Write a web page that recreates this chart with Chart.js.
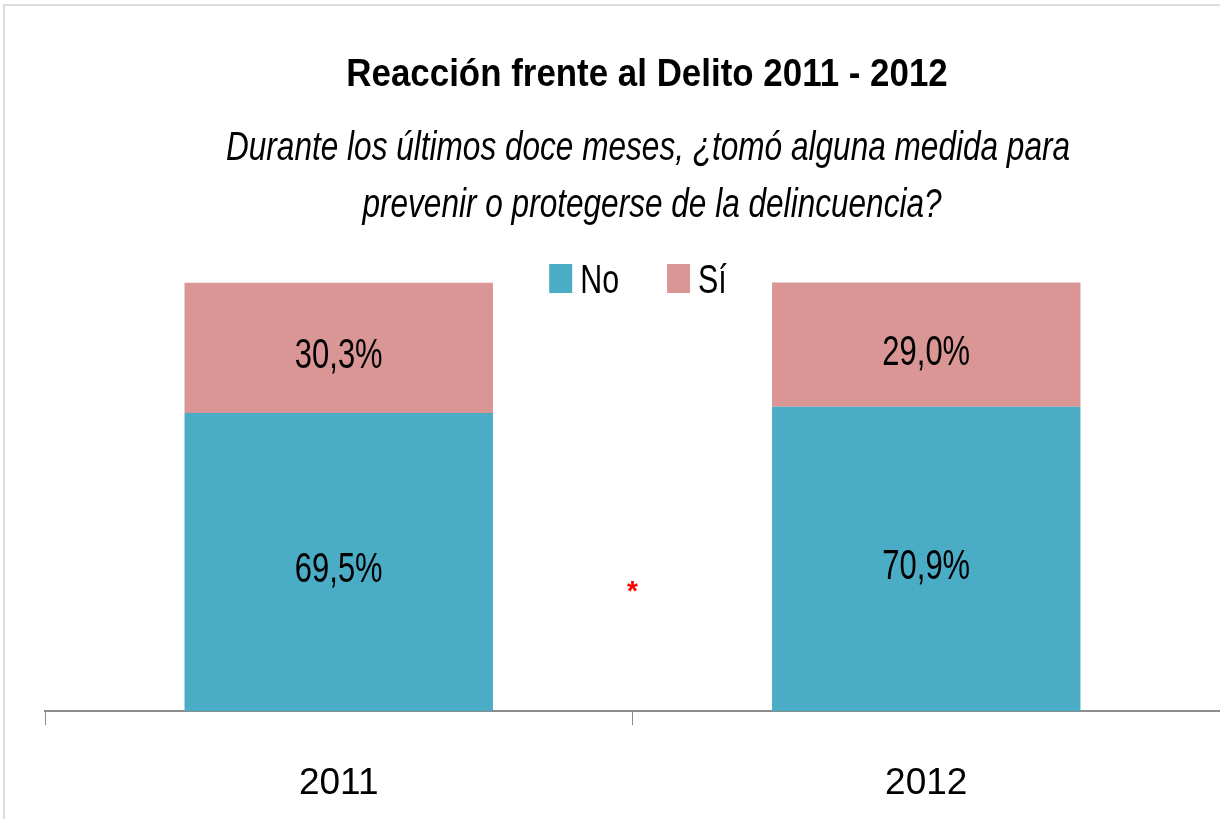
<!DOCTYPE html>
<html>
<head>
<meta charset="utf-8">
<script src="https://cdn.jsdelivr.net/npm/chart.js@4/dist/chart.umd.min.js"></script>
<style>
  html, body { margin: 0; padding: 0; background: #ffffff; }
  #wrap { position: relative; width: 1220px; height: 819px; overflow: hidden; }
  #frame { position: absolute; left: 3px; top: 4px; right: -5px; bottom: -5px;
           border-top: 2px solid #dcdcdc; border-left: 2px solid #dcdcdc; pointer-events: none; }
  canvas { position: absolute; left: 0; top: 0; }
</style>
</head>
<body>
<div id="wrap">
  <canvas id="c" width="1220" height="819"></canvas>
  <div id="frame"></div>
</div>
<script>
// ---- data ----
const categories = ['2011', '2012'];
const seriesNames = ['No', 'Sí'];
const noValues = [69.5, 70.9];
const siValues = [30.3, 29.0];
const seriesColors = ['#4BACC6', '#D99694'];
const titleText = 'Reacción frente al Delito 2011 - 2012';
const subtitleLines = ['Durante los últimos doce meses, ¿tomó alguna medida para',
                       'prevenir o protegerse de la delincuencia?'];
const noteMark = '*';

const FONT = '"Liberation Sans", Arial, sans-serif';

function fmt(v) { return v.toFixed(1).replace('.', ',') + '%'; }

// draw text with a horizontal condensing factor (the original uses a narrow face)
function txt(ctx, s, x, y, font, sx, align) {
  ctx.save();
  ctx.font = font;
  ctx.translate(x, y);
  ctx.scale(sx, 1);
  ctx.textAlign = align || 'center';
  ctx.textBaseline = 'alphabetic';
  ctx.fillText(s, 0, 0);
  ctx.restore();
}

const decorPlugin = {
  id: 'decor',
  afterDraw(chart) {
    const ctx = chart.ctx;
    ctx.save();
    ctx.fillStyle = '#000';
    // title + subtitle
    txt(ctx, titleText, 647, 86, 'bold 39px ' + FONT, 0.895);
    txt(ctx, subtitleLines[0], 648, 160, 'italic 41px ' + FONT, 0.77);
    txt(ctx, subtitleLines[1], 652, 217, 'italic 41px ' + FONT, 0.77);

    // legend (from datasets)
    const lf = '40px ' + FONT, lsx = 0.76;
    ctx.font = lf;
    const boxW = 23, boxH = 29, gapT = 8, gapI = 48;
    const items = chart.data.datasets.map(d => ({
      text: d.label, color: d.backgroundColor,
      w: ctx.measureText(d.label).width * lsx
    }));
    let total = 0;
    items.forEach((it, i) => { total += boxW + gapT + it.w + (i ? gapI : 0); });
    let x = 638 - total / 2;
    items.forEach((it, i) => {
      if (i) x += gapI;
      ctx.fillStyle = it.color;
      ctx.fillRect(x, 264, boxW, boxH);
      x += boxW + gapT;
      ctx.fillStyle = '#000';
      txt(ctx, it.text, x, 293, lf, lsx, 'left');
      x += it.w;
    });

    // segment value labels
    chart.data.datasets.forEach((ds, di) => {
      const meta = chart.getDatasetMeta(di);
      meta.data.forEach((el, i) => {
        const cy = (el.y + el.base) / 2;
        txt(ctx, fmt(ds.data[i]), el.x, cy + 20.5, '43px ' + FONT, 0.72);
      });
    });

    // red asterisk between the two bars
    const xs = chart.scales.x, ys = chart.scales.y;
    const ax = (xs.getPixelForValue(0) + xs.getPixelForValue(1)) / 2;
    ctx.fillStyle = '#FF0000';
    txt(ctx, noteMark, ax, ys.getPixelForValue(26), 'bold 28px ' + FONT, 1.0);
    ctx.restore();
  }
};

function draw() {
  new Chart(document.getElementById('c'), {
    type: 'bar',
    data: {
      labels: categories,
      datasets: [
        { label: seriesNames[0], data: noValues, backgroundColor: seriesColors[0],
          barPercentage: 0.525, categoryPercentage: 1.0 },
        { label: seriesNames[1], data: siValues, backgroundColor: seriesColors[1],
          barPercentage: 0.525, categoryPercentage: 1.0 }
      ]
    },
    options: {
      responsive: false,
      animation: false,
      layout: { padding: { left: 45, right: -4, top: 282, bottom: -22.5 } },
      scales: {
        x: {
          stacked: true,
          offset: true,
          grid: { display: true, drawOnChartArea: false, offset: true,
                  tickLength: 14, color: '#8c8c8c', lineWidth: 1 },
          border: { display: true, color: '#8c8c8c', width: 2 },
          ticks: { color: '#000', font: { family: FONT, size: 37 }, padding: 36 }
        },
        y: {
          stacked: true,
          display: false,
          min: 0,
          max: 100
        }
      },
      plugins: {
        title: { display: false },
        subtitle: { display: false },
        legend: { display: false },
        tooltip: { enabled: false }
      }
    },
    plugins: [decorPlugin]
  });
}

Promise.all([
  document.fonts.load('40px "Liberation Sans"'),
  document.fonts.load('bold 40px "Liberation Sans"'),
  document.fonts.load('italic 40px "Liberation Sans"')
]).then(draw, draw);
</script>
</body>
</html>
